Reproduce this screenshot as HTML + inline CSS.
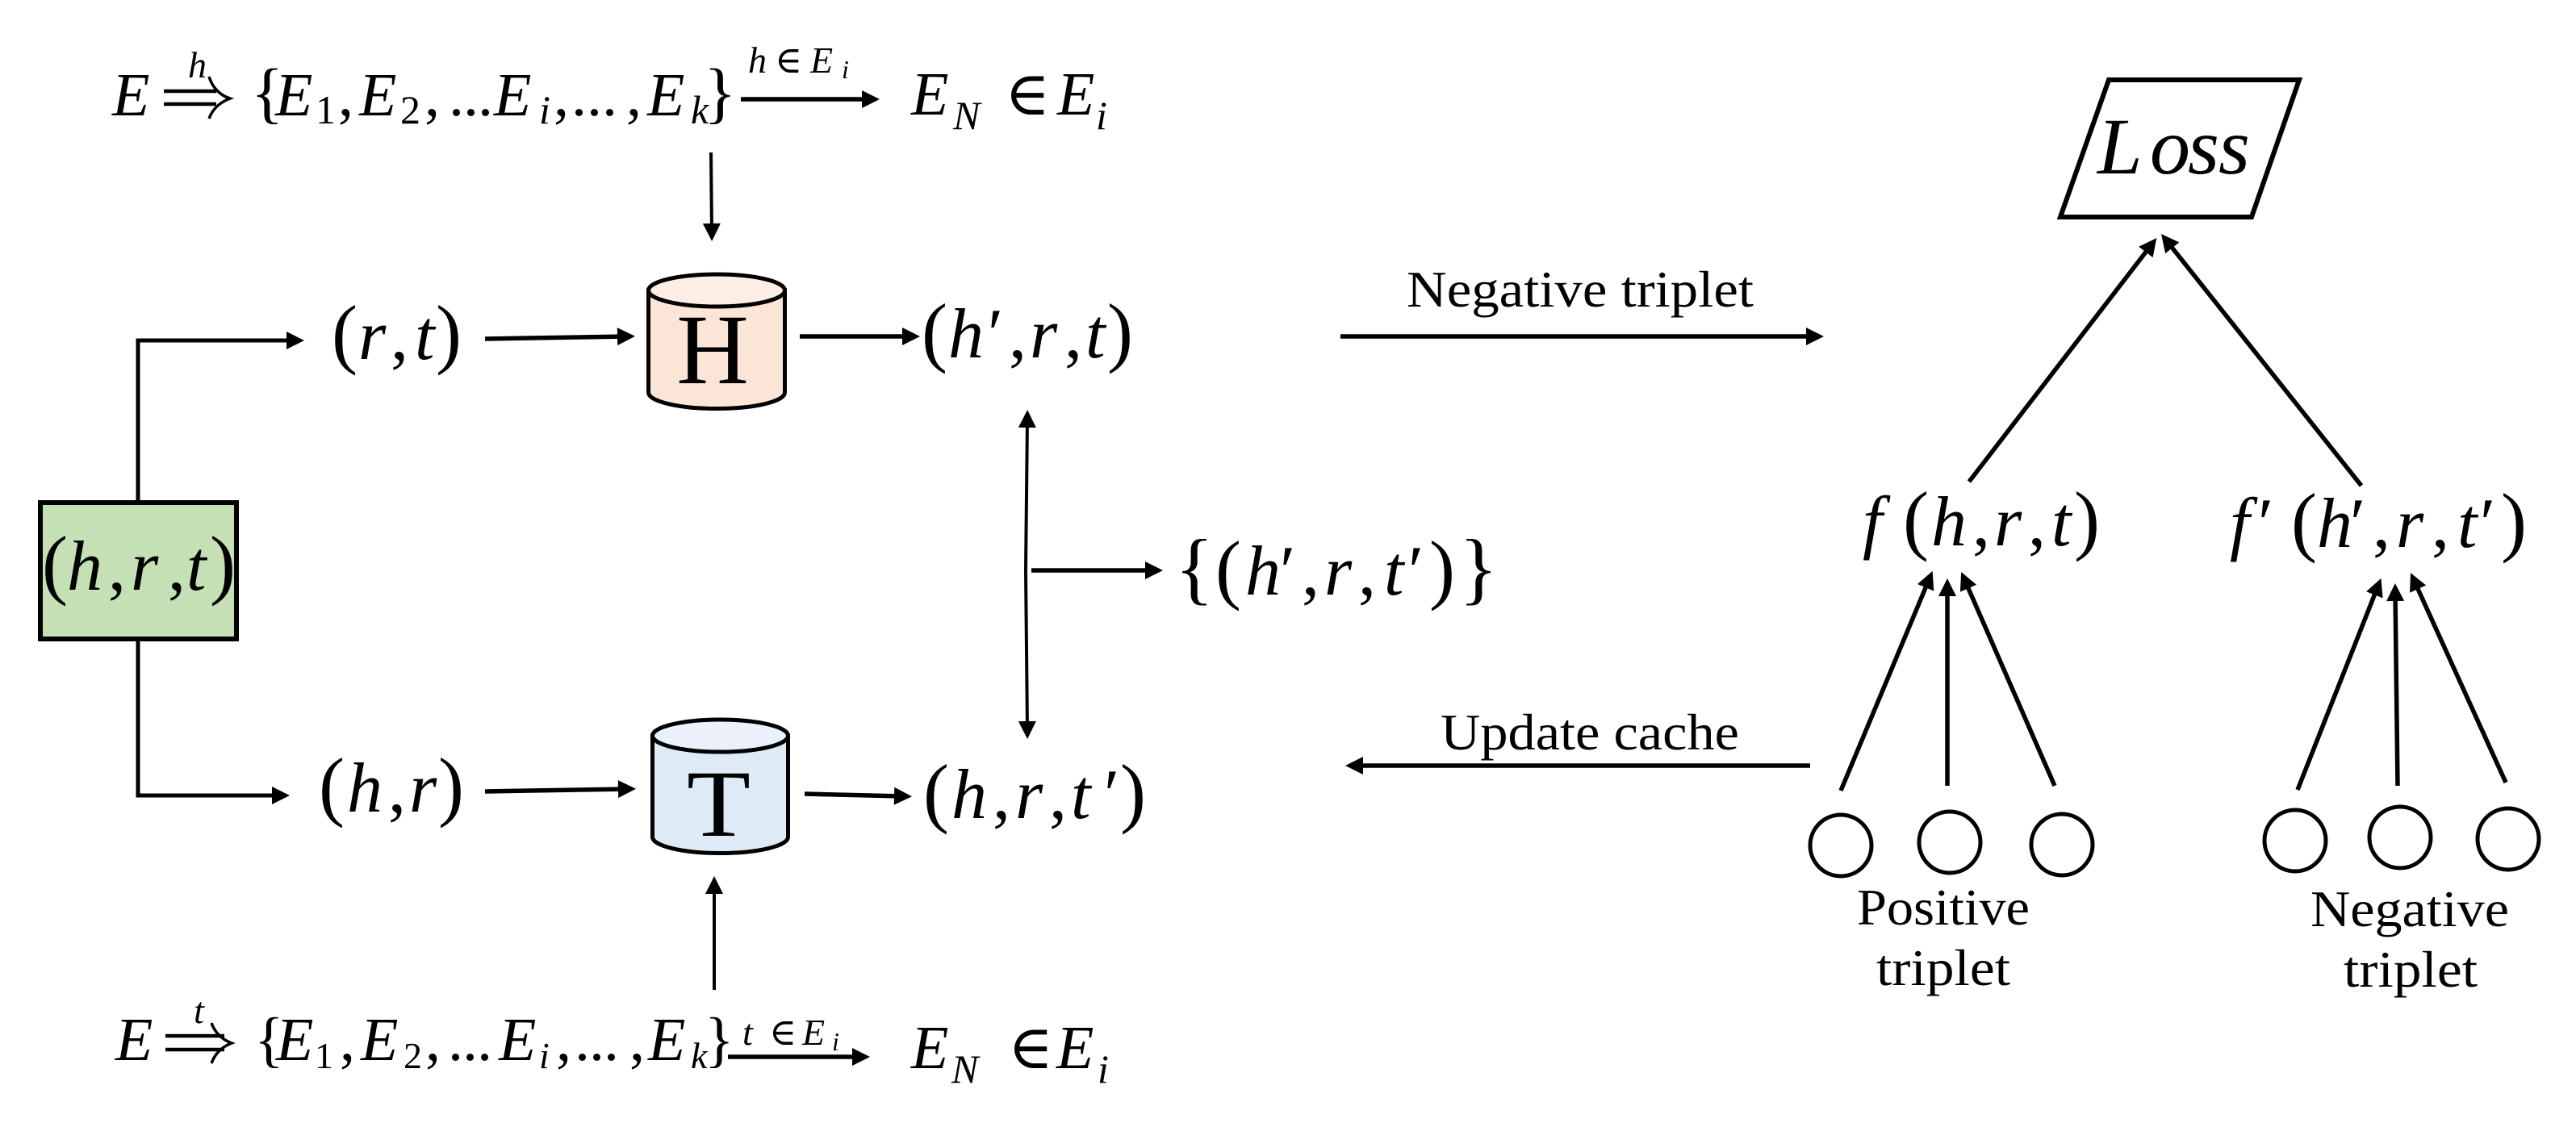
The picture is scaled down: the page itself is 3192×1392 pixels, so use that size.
<!DOCTYPE html>
<html>
<head>
<meta charset="utf-8">
<style>
html,body{margin:0;padding:0;background:#fff;width:3192px;height:1392px;overflow:hidden}
svg{display:block}
text{font-family:"Liberation Serif","DejaVu Serif",serif;fill:#000}
.m{font-style:italic;font-size:88px}
.r{font-style:normal}
.p{font-style:normal;font-size:96px}
.e{font-style:italic;font-size:76px}
.s{font-style:italic;font-size:50px}
.t{font-style:italic;font-size:46px}
.ts{font-style:italic;font-size:32px}
.l{font-size:64px}
.a{stroke:#000;fill:none;marker-end:url(#h)}
</style>
</head>
<body>
<svg width="3192" height="1392" viewBox="0 0 3192 1392" xmlns="http://www.w3.org/2000/svg">
<defs>
<marker id="h" markerUnits="userSpaceOnUse" markerWidth="44" markerHeight="44" viewBox="-22 -22 44 44" refX="0" refY="0" orient="auto" overflow="visible">
<path d="M-10 -11 L12 0 L-10 11 Z" fill="#000"/>
</marker>
</defs>

<!-- top equation -->
<text class="e" y="143" x="139">E</text>
<path d="M203 113H268M203 129H268" stroke="#000" stroke-width="4.5" fill="none"/>
<path d="M259 95C263 108 272 118 285 122C272 127 263 136 259 147" stroke="#000" stroke-width="3.5" fill="none"/>
<text class="t" x="233" y="96">h</text>
<text class="e" y="143"><tspan class="r" x="311" font-size="84">{</tspan><tspan x="341">E</tspan><tspan class="r" x="419">,</tspan><tspan x="445">E</tspan><tspan class="r" x="526">,</tspan><tspan class="r" x="556 574 592">...</tspan><tspan x="612">E</tspan><tspan class="r" x="686">,</tspan><tspan class="r" x="708 727 746">...</tspan><tspan class="r" x="776">,</tspan><tspan x="802">E</tspan><tspan class="r" x="872" font-size="84">}</tspan></text>
<text class="s" y="153"><tspan class="r" x="391">1</tspan><tspan class="r" x="496">2</tspan><tspan x="668">i</tspan><tspan x="856">k</tspan></text>
<line class="a" x1="918" y1="123" x2="1078" y2="123" stroke-width="5.5"/>
<text class="t" y="90"><tspan x="927">h</tspan><tspan class="r" x="960">∈</tspan><tspan x="1004">E</tspan></text>
<text class="ts" x="1043" y="97">i</text>
<text class="e" y="142"><tspan x="1129">E</tspan><tspan class="r" x="1245">∈</tspan><tspan x="1310">E</tspan></text>
<text class="s" y="160"><tspan x="1181">N</tspan><tspan x="1358">i</tspan></text>
<line class="a" x1="881" y1="189" x2="882" y2="287" stroke-width="4"/>

<!-- green box -->
<rect x="50" y="623" width="243" height="169" fill="#C5E0B4" stroke="#000" stroke-width="6"/>
<text class="m" y="731"><tspan class="p" x="52">(</tspan><tspan x="83">h</tspan><tspan class="r" x="134">,</tspan><tspan x="162">r</tspan><tspan class="r" x="208">,</tspan><tspan x="231">t</tspan><tspan class="p" x="260">)</tspan></text>
<path class="a" d="M171 621V422H365" stroke-width="5"/>
<path class="a" d="M171 793V986H347" stroke-width="5"/>

<!-- row H -->
<text class="m" y="445"><tspan class="p" x="411">(</tspan><tspan x="444">r</tspan><tspan class="r" x="484">,</tspan><tspan x="514">t</tspan><tspan class="p" x="540">)</tspan></text>
<line class="a" x1="601" y1="420" x2="775" y2="417" stroke-width="5.5"/>
<path d="M803.5 360V486.5A84.5 20 0 0 0 972.5 486.5V360Z" fill="#FBE5D6" stroke="#000" stroke-width="5"/>
<ellipse cx="888" cy="360" rx="84.5" ry="20" fill="#FCEEE4" stroke="#000" stroke-width="5"/>
<text x="883" y="475" font-size="124" text-anchor="middle">H</text>
<line class="a" x1="991" y1="417" x2="1128" y2="417" stroke-width="5.5"/>
<text class="m" y="443"><tspan class="p" x="1142">(</tspan><tspan x="1175">h</tspan><tspan class="r" x="1224">′</tspan><tspan class="r" x="1250">,</tspan><tspan x="1276">r</tspan><tspan class="r" x="1319">,</tspan><tspan x="1345">t</tspan><tspan class="p" x="1372">)</tspan></text>

<!-- row T -->
<text class="m" y="1006"><tspan class="p" x="395">(</tspan><tspan x="430">h</tspan><tspan class="r" x="481">,</tspan><tspan x="507">r</tspan><tspan class="p" x="543">)</tspan></text>
<line class="a" x1="601" y1="981" x2="776" y2="978" stroke-width="5.5"/>
<path d="M808.5 912V1037.5A84 20 0 0 0 976.5 1037.5V912Z" fill="#DEEBF7" stroke="#000" stroke-width="5"/>
<ellipse cx="892.5" cy="912" rx="84" ry="20" fill="#EAF1FA" stroke="#000" stroke-width="5"/>
<text x="851" y="1036" font-size="118" textLength="79" lengthAdjust="spacingAndGlyphs">T</text>
<line class="a" x1="997" y1="984" x2="1118" y2="987" stroke-width="5.5"/>
<text class="m" y="1014"><tspan class="p" x="1144">(</tspan><tspan x="1179">h</tspan><tspan class="r" x="1230">,</tspan><tspan x="1258">r</tspan><tspan class="r" x="1300">,</tspan><tspan x="1327">t</tspan><tspan class="r" x="1368">′</tspan><tspan class="p" x="1388">)</tspan></text>
<line class="a" x1="885" y1="1227" x2="885" y2="1098" stroke-width="4"/>

<!-- bottom equation -->
<text class="e" y="1314" x="143">E</text>
<path d="M205 1284H278M205 1301H278" stroke="#000" stroke-width="4.5" fill="none"/>
<path d="M262 1268C266 1279 274 1288 287 1293C274 1298 266 1307 262 1318" stroke="#000" stroke-width="3.5" fill="none"/>
<text class="t" x="240" y="1268">t</text>
<text class="e" y="1314"><tspan class="r" x="315" font-size="76">{</tspan><tspan x="342">E</tspan><tspan class="r" x="421">,</tspan><tspan x="447">E</tspan><tspan class="r" x="527">,</tspan><tspan class="r" x="555 573 591">...</tspan><tspan x="618">E</tspan><tspan class="r" x="689">,</tspan><tspan class="r" x="712 730 748">...</tspan><tspan class="r" x="780">,</tspan><tspan x="803">E</tspan><tspan class="r" x="873" font-size="76">}</tspan></text>
<text class="s" y="1324"><tspan class="r" x="390" font-size="46">1</tspan><tspan class="r" x="500" font-size="46">2</tspan><tspan x="668" font-size="46">i</tspan><tspan x="856" font-size="46">k</tspan></text>
<line class="a" x1="902" y1="1310" x2="1066" y2="1310" stroke-width="5.5"/>
<text class="t" y="1295"><tspan x="920">t</tspan><tspan class="r" x="953">∈</tspan><tspan x="994">E</tspan></text>
<text class="ts" x="1031" y="1302">i</text>
<text class="e" y="1324"><tspan x="1129">E</tspan><tspan class="r" x="1249">∈</tspan><tspan x="1309">E</tspan></text>
<text class="s" y="1342"><tspan x="1179">N</tspan><tspan x="1360">i</tspan></text>

<!-- double arrow and set -->
<path d="M1271 707L1273 520" stroke="#000" stroke-width="4" fill="none" marker-end="url(#h)"/>
<path d="M1271 707L1273 904" stroke="#000" stroke-width="4" fill="none" marker-end="url(#h)"/>
<line class="a" x1="1278" y1="707" x2="1429" y2="707" stroke-width="5.5"/>
<text class="m" y="737"><tspan class="r" x="1456" font-size="100">{</tspan><tspan class="p" x="1506" font-size="100">(</tspan><tspan x="1543">h</tspan><tspan class="r" x="1586">′</tspan><tspan class="r" x="1613">,</tspan><tspan x="1641">r</tspan><tspan class="r" x="1683">,</tspan><tspan x="1715">t</tspan><tspan class="r" x="1745">′</tspan><tspan class="p" x="1771" font-size="100">)</tspan><tspan class="r" x="1808" font-size="100">}</tspan></text>

<!-- middle labels -->
<text class="l" x="1743" y="380" textLength="430" lengthAdjust="spacingAndGlyphs">Negative triplet</text>
<line class="a" x1="1661" y1="417" x2="2248" y2="417" stroke-width="5.5"/>
<text class="l" x="1785" y="929" textLength="370" lengthAdjust="spacingAndGlyphs">Update cache</text>
<line class="a" x1="2243" y1="949" x2="1679" y2="949" stroke-width="5.5"/>

<!-- right side -->
<polygon points="2613,99 2849,99 2790,269 2553,269" fill="#fff" stroke="#000" stroke-width="6"/>
<text y="215" font-size="100" font-style="italic" x="2599 2664 2711 2749">Loss</text>

<line class="a" x1="2440" y1="597" x2="2665" y2="304.5" stroke-width="5.5"/>
<line class="a" x1="2926" y1="602" x2="2685.5" y2="299.4" stroke-width="5.5"/>

<text class="m" y="676"><tspan x="2308">f</tspan><tspan class="p" x="2358" font-size="100">(</tspan><tspan x="2393">h</tspan><tspan class="r" x="2444">,</tspan><tspan x="2471">r</tspan><tspan class="r" x="2513">,</tspan><tspan x="2542">t</tspan><tspan class="p" x="2570" font-size="100">)</tspan></text>
<text class="m" y="678"><tspan x="2763">f</tspan><tspan class="r" x="2798">′</tspan><tspan class="p" x="2839" font-size="100">(</tspan><tspan x="2871">h</tspan><tspan class="r" x="2912">′</tspan><tspan class="r" x="2940">,</tspan><tspan x="2969">r</tspan><tspan class="r" x="3013">,</tspan><tspan x="3045">t</tspan><tspan class="r" x="3073">′</tspan><tspan class="p" x="3099" font-size="100">)</tspan></text>

<line class="a" x1="2281" y1="980" x2="2390" y2="719" stroke-width="5.5"/>
<line class="a" x1="2413" y1="974" x2="2413" y2="729" stroke-width="5.5"/>
<line class="a" x1="2546" y1="974" x2="2435" y2="720" stroke-width="5.5"/>
<line class="a" x1="2847" y1="979" x2="2946" y2="728" stroke-width="5.5"/>
<line class="a" x1="2971" y1="974" x2="2968" y2="735" stroke-width="5.5"/>
<line class="a" x1="3105" y1="970" x2="2992" y2="721" stroke-width="5.5"/>

<g fill="none" stroke="#000" stroke-width="5">
<circle cx="2281" cy="1048" r="38"/>
<circle cx="2416" cy="1044" r="38"/>
<circle cx="2555" cy="1047" r="38"/>
<circle cx="2844" cy="1042" r="38"/>
<circle cx="2974" cy="1038" r="38"/>
<circle cx="3108" cy="1040" r="38"/>
</g>

<text class="l" x="2301" y="1146" textLength="214" lengthAdjust="spacingAndGlyphs">Positive</text>
<text class="l" x="2325" y="1221" textLength="166" lengthAdjust="spacingAndGlyphs">triplet</text>
<text class="l" x="2863" y="1148" textLength="246" lengthAdjust="spacingAndGlyphs">Negative</text>
<text class="l" x="2904" y="1223" textLength="166" lengthAdjust="spacingAndGlyphs">triplet</text>
</svg>
</body>
</html>
